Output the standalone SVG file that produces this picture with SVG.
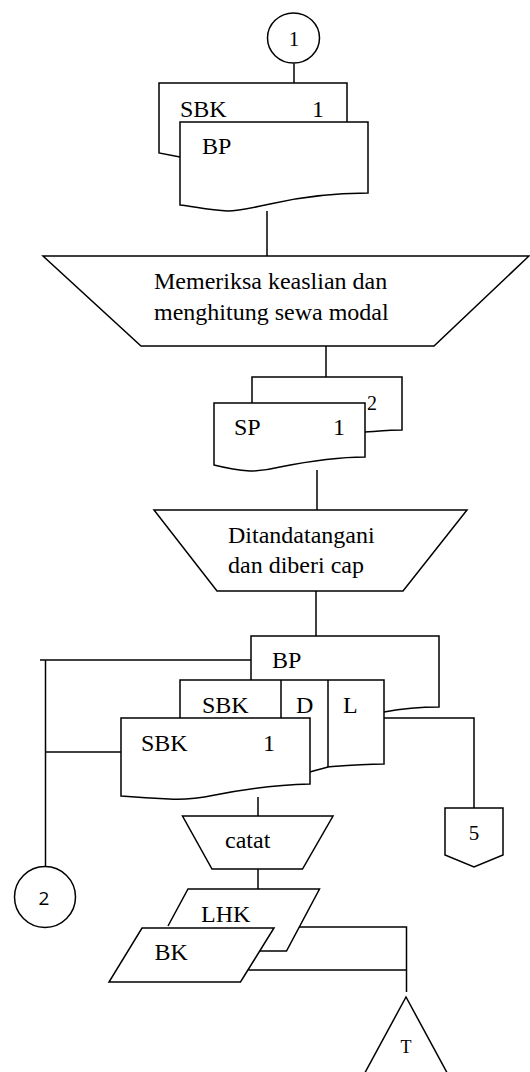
<svg xmlns="http://www.w3.org/2000/svg" width="530" height="1072" viewBox="0 0 530 1072">
  <style>
    .s { fill: none; stroke: #000; stroke-width: 1.5; stroke-linejoin: miter; }
    .f { fill: #fff; stroke: #000; stroke-width: 1.5; }
    .t { font-family: "Liberation Serif", "Times New Roman", serif; font-size: 24px; fill: #000; }
    .sm { font-size: 21px; }
    .sans { font-family: "Open Sans", "Liberation Sans", sans-serif; font-size: 19px; fill: #000; }
  </style>
  <rect width="530" height="1072" fill="#fff"/>

  <!-- connectors -->
  <g id="connectors" class="s">
    <path d="M294,63.5 V83"/>
    <path d="M267,211 V256"/>
    <path d="M326,346 V377"/>
    <path d="M317,470 V510"/>
    <path d="M316,591 V636"/>
    <path d="M40,660 H251"/>
    <path d="M45.5,660 V866.5"/>
    <path d="M45.5,752 H121"/>
    <path d="M384,718 H474 V808"/>
    <path d="M258,797 V816"/>
    <path d="M258,869 V889"/>
    <path d="M299,927 H406.5 V992"/>
    <path d="M248.5,970 H406.5"/>
  </g>

  <!-- on-page connector 1 -->
  <g id="conn-1">
    <ellipse class="f" cx="293.5" cy="38" rx="26" ry="25"/>
    <text class="t sm" x="294" y="46" text-anchor="middle">1</text>
  </g>

  <!-- documents SBK / BP -->
  <g id="doc-sbk-bp">
    <path class="s" d="M180,157 L159,153 V83 H347 V122"/>
    <text class="t" x="180" y="117">SBK</text>
    <text class="t" x="312" y="117">1</text>
    <path class="f" d="M180,122 H368 V193 C330,193 300,197 270,204 C252,208 238,211 228,211 C208,210 192,206 180,205 Z"/>
    <text class="t" x="202" y="154">BP</text>
  </g>

  <!-- manual operation: check -->
  <g id="op-periksa">
    <path class="f" d="M43,256 H529 L434,346 H141 Z"/>
    <text class="t" x="154" y="289">Memeriksa keaslian dan</text>
    <text class="t" x="154" y="320">menghitung sewa modal</text>
  </g>

  <!-- document SP, 2 copies -->
  <g id="doc-sp">
    <path class="s" d="M365,432 C380,431 392,430 402,430 V377 H252 V403"/>
    <text class="t" x="367" y="410" style="font-size:20px">2</text>
    <path class="f" d="M214,403 H365 V457 C335,457 305,462 280,467 C268,470 258,471 250,471 C235,470 222,467 214,465 Z"/>
    <text class="t" x="234" y="435">SP</text>
    <text class="t" x="333" y="435">1</text>
  </g>

  <!-- manual operation: sign -->
  <g id="op-ttd">
    <path class="f" d="M154,510 H467 L403,591 H217 Z"/>
    <text class="t" x="228" y="543">Ditandatangani</text>
    <text class="t" x="228" y="573">dan diberi cap</text>
  </g>

  <!-- document stack BP / SBK D L / SBK 1 -->
  <g id="doc-stack">
    <path class="s" d="M384,712 C400,709 420,707 439,707 V636 H251 V680"/>
    <text class="t" x="272" y="668">BP</text>
    <path class="s" d="M180,718 V680 H384 V764 C360,764 340,766 328,767 C320,769 314,771 310,772"/>
    <path class="s" d="M281,680 V718 M328,680 V767"/>
    <text class="t" x="202" y="713">SBK</text>
    <text class="t" x="296" y="713">D</text>
    <text class="t" x="343" y="713">L</text>
    <path class="f" d="M121,718 H310 V784 C270,785 240,790 215,795 C195,799 180,800 169,799 C150,798 135,797 121,796 Z"/>
    <text class="t" x="141" y="751">SBK</text>
    <text class="t" x="263" y="751">1</text>
  </g>

  <!-- off-page connector 5 -->
  <g id="conn-5">
    <path class="f" d="M445,808 H503 V855 L474,867 L445,855 Z"/>
    <text class="t sm" x="474" y="840" text-anchor="middle">5</text>
  </g>

  <!-- manual operation: record -->
  <g id="op-catat">
    <path class="f" d="M182.5,816 H333 L302.5,869 H212 Z"/>
    <text class="t" x="225" y="848">catat</text>
  </g>

  <!-- ledgers LHK / BK -->
  <g id="io-lhk-bk">
    <path class="s" d="M168,926 L188,889 H319.5 L286.5,951 H260"/>
    <text class="t" x="201" y="922">LHK</text>
    <path class="f" d="M142,928 H274 L240.5,982 H109 Z"/>
    <text class="t" x="154.5" y="960">BK</text>
  </g>

  <!-- on-page connector 2 -->
  <g id="conn-2">
    <circle class="f" cx="45" cy="897" r="30.5"/>
    <text class="sans" x="44" y="905" text-anchor="middle">2</text>
  </g>

  <!-- archive T -->
  <g id="arsip-t">
    <path class="f" d="M406,997 L361,1080 H451 Z"/>
    <text class="t" x="406" y="1053" text-anchor="middle" style="font-size:18px">T</text>
  </g>
</svg>
